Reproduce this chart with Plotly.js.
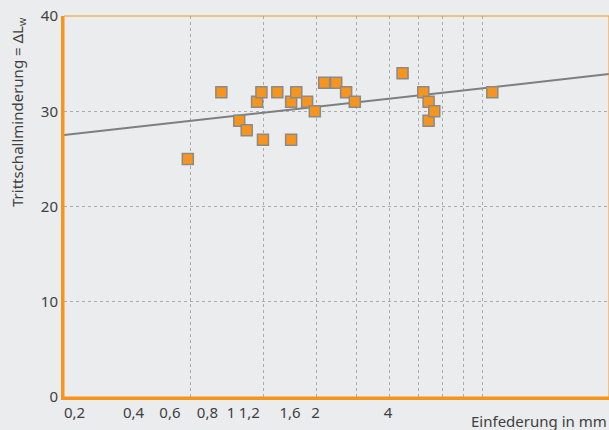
<!DOCTYPE html>
<html>
<head>
<meta charset="utf-8">
<script src="https://cdn.plot.ly/plotly-3.0.1.min.js"></script>
<style>
  html, body { margin: 0; padding: 0; background: #ebecee; }
  #chart { width: 609px; height: 430px; }
</style>
</head>
<body>
<div id="chart"></div>
<script>
// Measured points (x on the chart's logarithmic deflection scale, y = ΔLw in dB)
const pointX = [0.395, 0.475, 0.524, 0.546, 0.578, 0.592, 0.597, 0.646, 0.697, 0.697, 0.717,
                0.761, 0.794, 0.836, 0.893, 0.943, 0.989, 1.286, 1.441, 1.484, 1.484, 1.531, 2.106];
const pointY = [25, 32, 29, 28, 31, 32, 27, 32, 31, 27, 32,
                31, 30, 33, 33, 32, 31, 34, 32, 31, 29, 30, 32];

// Trend line
const fitX = [0.2, 4];
const fitY = [27.5, 33.9];

// Vertical grid lines
const gridX = [0.4, 0.6, 0.8, 1.0, 1.2, 1.4, 1.6, 1.8, 2.0];

// X tick labels (as printed) and where they sit on the scale
const xTickVals = [0.212, 0.293, 0.358, 0.440, 0.501, 0.554, 0.693, 0.797, 1.187];
const xTickText = ["0,2", "0,4", "0,6", "0,8", "1", "1,2", "1,6", "2", "4"];

// Y ticks
const yTickVals = [0, 10, 20, 30, 40];

const ORANGE = "#f7941d";
const GRID = "#a9abae";
const TEXT = "#3f3f3f";
const FONT = "Noto Sans, sans-serif";

const traces = [
  {
    x: fitX, y: fitY, type: "scatter", mode: "lines",
    line: { color: "#7d7e80", width: 2 },
    hoverinfo: "skip", showlegend: false
  },
  {
    x: pointX, y: pointY, type: "scatter", mode: "markers",
    marker: { symbol: "square", size: 11, color: ORANGE, line: { color: "#8a8a8a", width: 1.5 } },
    showlegend: false
  }
];

const layout = {
  width: 609, height: 430,
  margin: { l: 64, r: 0, t: 16, b: 33 },
  paper_bgcolor: "#ebecee",
  plot_bgcolor: "#ebecee",
  font: { family: FONT, color: TEXT, size: 15 },
  showlegend: false,
  xaxis: {
    type: "log",
    range: [Math.log10(0.2), Math.log10(4)],
    tickmode: "array",
    tickvals: xTickVals,
    ticktext: xTickText,
    ticks: "",
    showgrid: false,
    zeroline: false,
    showline: true, linecolor: ORANGE, linewidth: 3,
    tickfont: { family: FONT, size: 15, color: TEXT },
    minor: {
      tickmode: "array", tickvals: gridX, ticks: "",
      showgrid: true, gridcolor: GRID, griddash: "dot", gridwidth: 1
    },
    fixedrange: true
  },
  yaxis: {
    range: [0, 40],
    tickmode: "array",
    tickvals: yTickVals,
    ticks: "",
    showgrid: true, gridcolor: GRID, griddash: "dot", gridwidth: 1,
    zeroline: false,
    showline: true, linecolor: ORANGE, linewidth: 3,
    tickfont: { family: FONT, size: 15, color: TEXT },
    fixedrange: true
  },
  shapes: [
    { type: "rect", xref: "paper", yref: "paper", x0: 0, x1: 1, y0: 0, y1: 1,
      line: { color: ORANGE, width: 1 }, fillcolor: "rgba(0,0,0,0)", layer: "above" }
  ],
  annotations: [
    {
      text: "Trittschallminderung = ΔL<sub>w</sub>",
      xref: "paper", yref: "paper", x: 0, y: 1,
      xanchor: "center", yanchor: "top", xshift: -46, yshift: 1,
      textangle: -90, showarrow: false,
      font: { family: FONT, size: 15, color: TEXT }
    },
    {
      text: "Einfederung in mm",
      xref: "paper", yref: "paper", x: 1, y: 0,
      xanchor: "right", yanchor: "middle", yshift: -24, xshift: 0,
      showarrow: false,
      font: { family: FONT, size: 15, color: TEXT }
    }
  ]
};

Plotly.newPlot("chart", traces, layout, { displayModeBar: false, staticPlot: true });
</script>
</body>
</html>
